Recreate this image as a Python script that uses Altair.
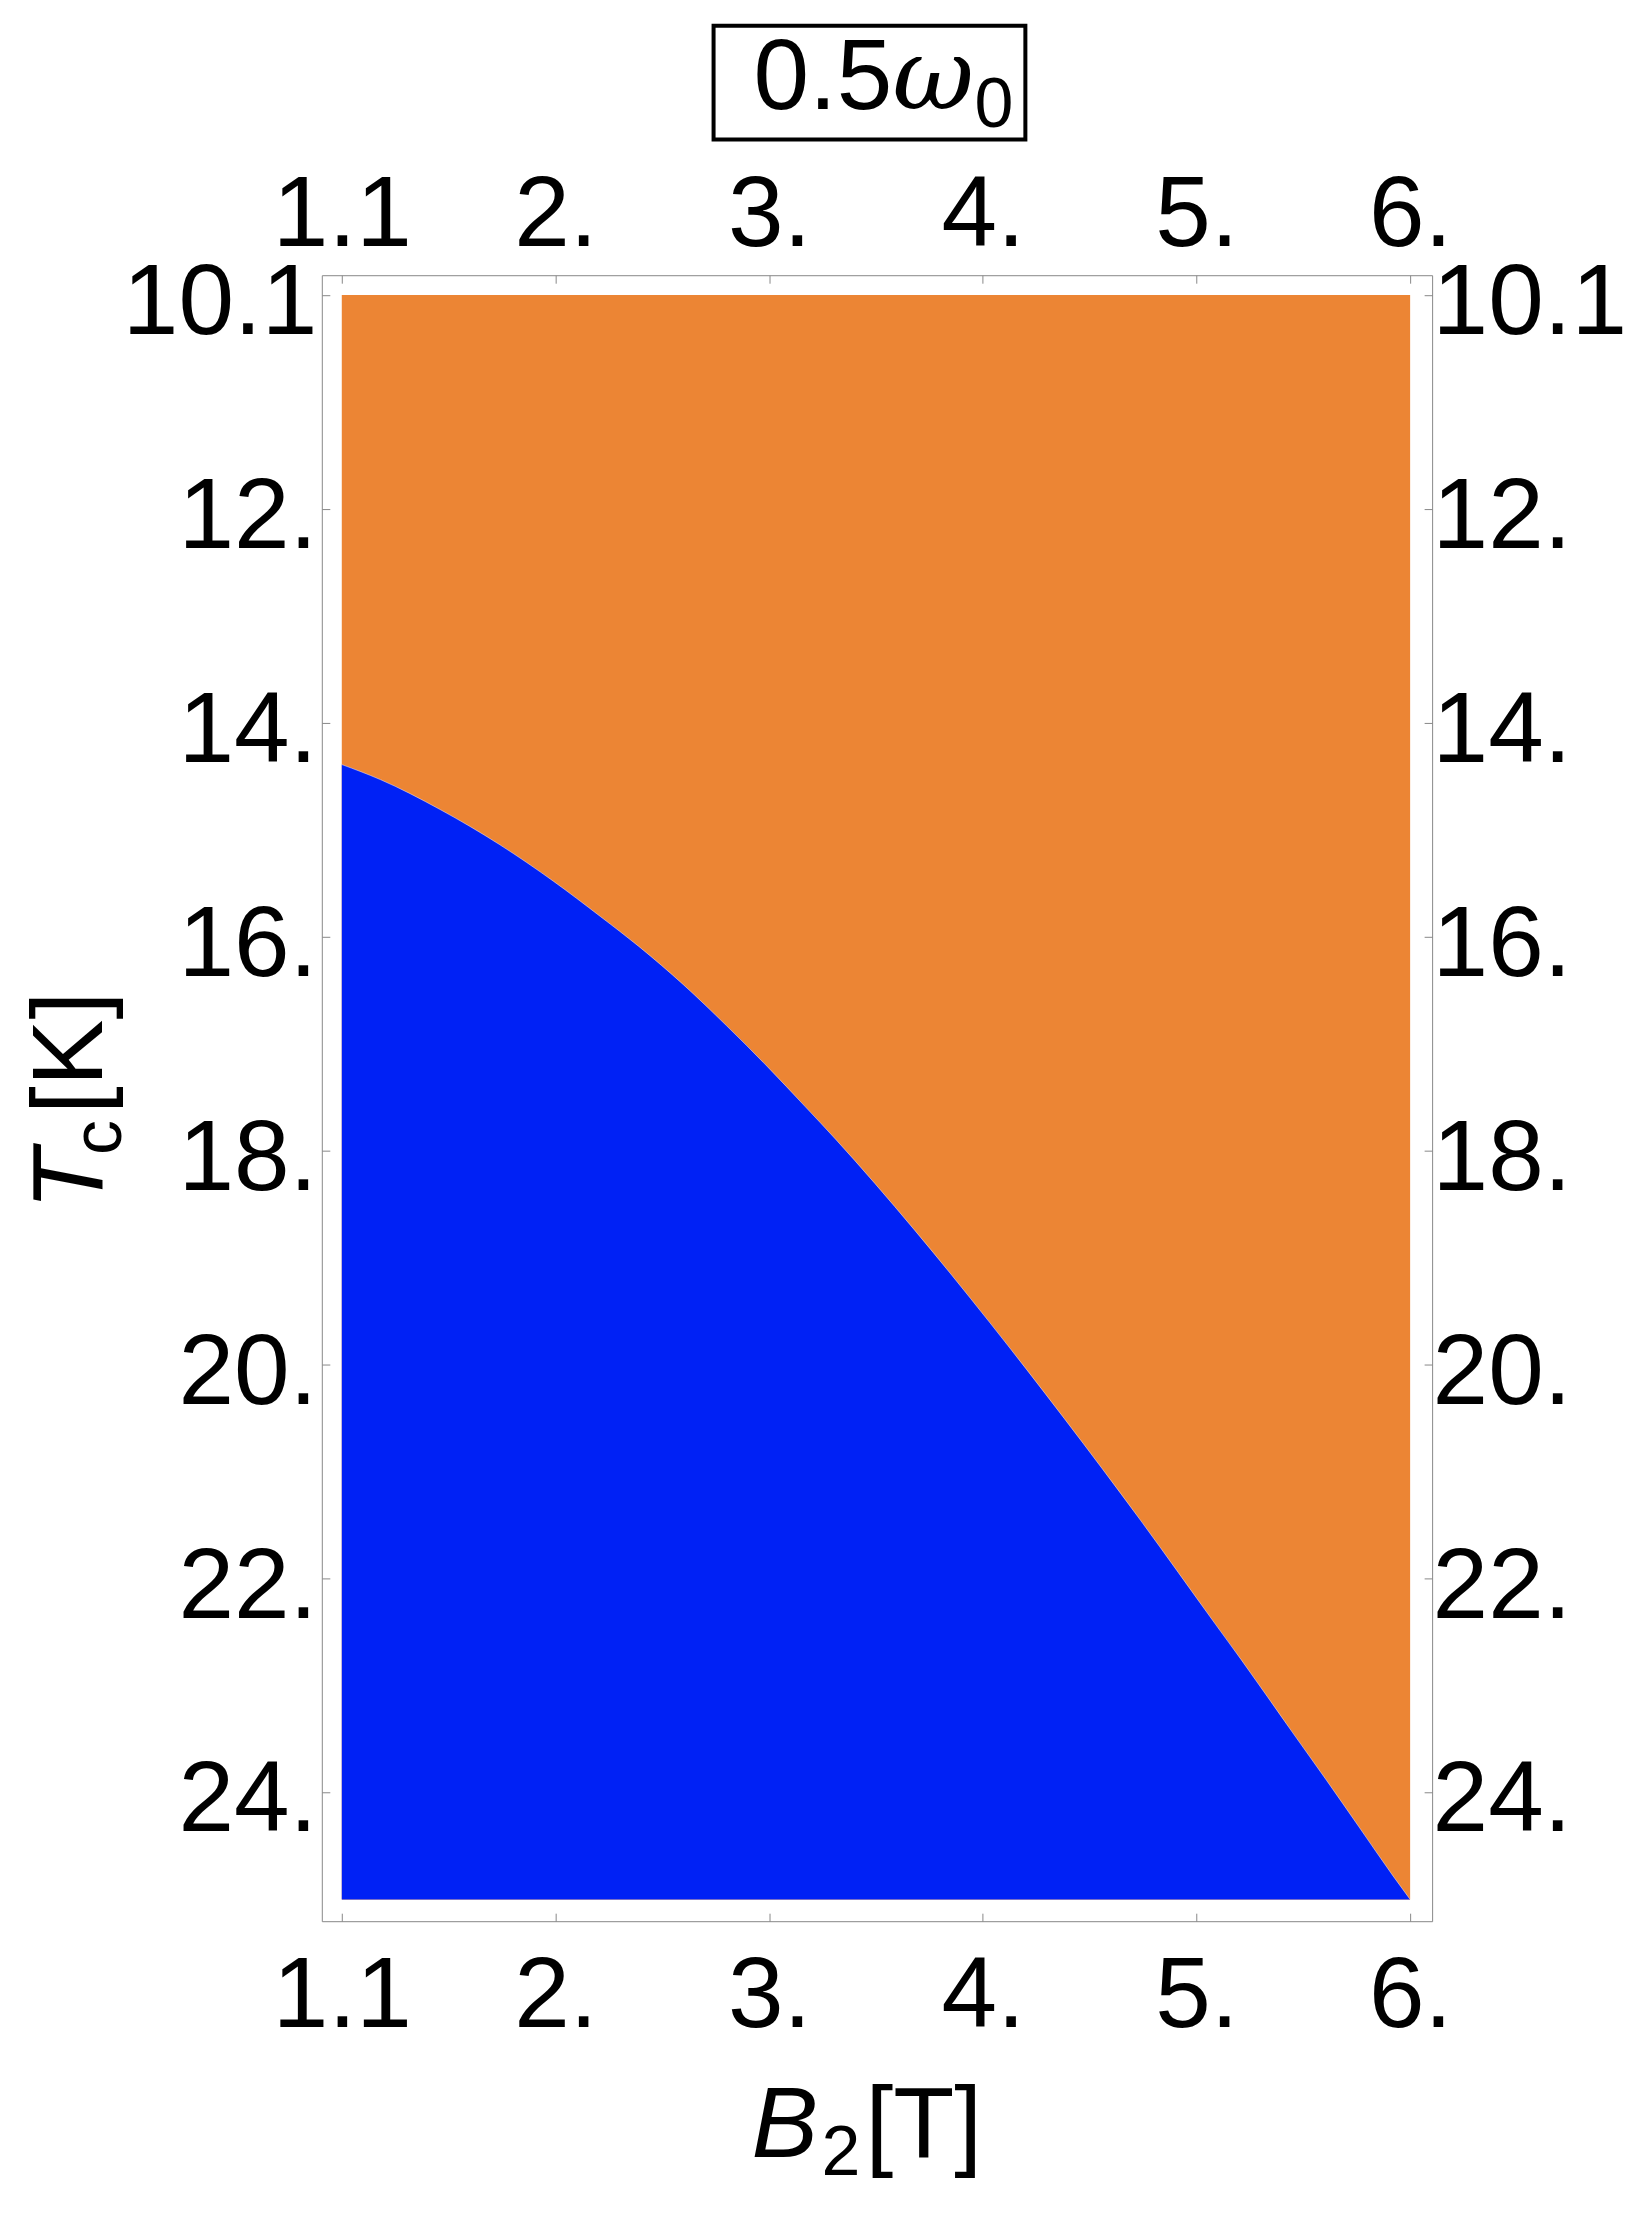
import altair as alt
import pandas as pd

# ---- data ----
B_vals = [1.00, 1.18, 1.46, 1.74, 1.99, 2.21, 2.39, 2.60, 2.80, 2.99, 3.17, 3.31,
          3.68, 4.03, 4.38, 4.74, 5.09, 5.21, 5.45, 5.61, 5.76, 5.92, 6.00]
Tc_vals = [14.39, 14.53, 14.81, 15.14, 15.48, 15.81, 16.09, 16.45, 16.83, 17.21, 17.59, 17.89,
           18.74, 19.60, 20.50, 21.46, 22.43, 22.76, 23.44, 23.89, 24.32, 24.78, 25.00]
B_range = [1.0, 6.0]
T_range = [10.0, 25.0]

x_ticks = [1, 2, 3, 4, 5, 6]
x_tick_labels = ["1.1", "2.", "3.", "4.", "5.", "6."]
y_ticks = [10, 12, 14, 16, 18, 20, 22, 24]
y_tick_labels = ["10.1", "12.", "14.", "16.", "18.", "20.", "22.", "24."]

title_parts = ["0.5", "\u03c9", "0"]
xlabel_parts = ["B", "2", "[T]"]
ylabel_parts = ["T", "c", "[K]"]

# ---- style ----
ORANGE = "#EC8534"
BLUE = "#0021F5"
GRAY = "#888888"
FONT = "Liberation Sans"
W, H = 1111, 1647


def label_expr(vals, labels):
    expr = "''"
    for v, l in reversed(list(zip(vals, labels))):
        expr = f"datum.value == {v} ? '{l}' : ({expr})"
    return expr


x_scale = alt.Scale(domain=[0.9065, 6.1029], nice=False, zero=False)
y_scale = alt.Scale(domain=[9.815, 25.203], nice=False, zero=False, reverse=True)

common = dict(domain=False, grid=False, ticks=True, tickSize=8, tickColor=GRAY,
              tickWidth=1, offset=-8, labelFont=FONT, labelFontSize=100,
              labelColor="black", labelOverlap=False, labelFlush=False,
              labelBound=False, labelBaseline="alphabetic", labelLimit=1000)

ax_bottom = alt.Axis(orient="bottom", values=x_ticks,
                     labelExpr=label_expr(x_ticks, x_tick_labels),
                     labelPadding=105, labelAlign="center", **common)
ax_top = alt.Axis(orient="top", values=x_ticks,
                  labelExpr=label_expr(x_ticks, x_tick_labels),
                  labelPadding=30, labelAlign="center", **common)
ax_left = alt.Axis(orient="left", values=y_ticks,
                   labelExpr=label_expr(y_ticks, y_tick_labels),
                   labelPadding=5, labelAlign="right", labelOffset=38.5, **common)
ax_right = alt.Axis(orient="right", values=y_ticks,
                    labelExpr=label_expr(y_ticks, y_tick_labels),
                    labelPadding=0, labelAlign="left", labelOffset=38.5, **common)

rect_df = pd.DataFrame({"x1": [B_range[0]], "x2": [B_range[1]],
                        "y1": [T_range[0]], "y2": [T_range[1]]})
curve_df = pd.DataFrame({"B": B_vals, "Tc": Tc_vals,
                         "Tb": [T_range[1]] * len(B_vals)})

orange = alt.Chart(rect_df).mark_rect(color=ORANGE).encode(
    x=alt.X("x1:Q", scale=x_scale, axis=ax_bottom, title=None),
    x2="x2:Q",
    y=alt.Y("y1:Q", scale=y_scale, axis=ax_left, title=None),
    y2="y2:Q",
)

blue = alt.Chart(curve_df).mark_area(color=BLUE, interpolate="monotone").encode(
    x=alt.X("B:Q", scale=x_scale, axis=ax_top, title=None),
    y=alt.Y("Tc:Q", scale=y_scale, axis=ax_right, title=None),
    y2="Tb:Q",
)

edge = alt.Chart(curve_df).mark_line(color="white", strokeWidth=1, opacity=0.45,
                                      interpolate="monotone").encode(
    x=alt.X("B:Q", scale=x_scale, axis=None),
    y=alt.Y("Tc:Q", scale=y_scale, axis=None),
)


def txt(s, x, y, size=100, font=FONT, style="normal", angle=0):
    kw = dict(font=font, fontSize=size, fontStyle=style, align="left",
              baseline="alphabetic", color="black")
    if angle:
        kw["angle"] = angle
    return alt.Chart(alt.Data(values=[{"t": s}])).mark_text(**kw).encode(
        text="t:N", x=alt.value(x), y=alt.value(y))


box = alt.Chart(alt.Data(values=[{"a": 1}])).mark_rect(
    fillOpacity=0, stroke="black", strokeWidth=4).encode(
    x=alt.value(392), x2=alt.value(704), y=alt.value(-249.7), y2=alt.value(-135.7))

texts = [
    txt(title_parts[0], 432, -166.4),
    txt(title_parts[1], 571, -166.4, font="DejaVu Serif", style="italic"),
    txt(title_parts[2], 653, -148.7, size=70),
    txt(xlabel_parts[0], 430, 1883.3, style="italic"),
    txt(xlabel_parts[1], 500, 1901.3, size=70),
    txt(xlabel_parts[2], 544, 1883.3),
    txt(ylabel_parts[0], -220, 935.3, style="italic", angle=270),
    txt(ylabel_parts[1], -201.3, 880.3, size=70, angle=270),
    txt(ylabel_parts[2], -220, 839.3, angle=270),
]

chart = alt.layer(orange, blue, edge, box, *texts).resolve_axis(
    x="independent", y="independent"
).properties(
    width=W, height=H,
    autosize=alt.AutoSizeParams(type="none"),
    padding={"left": 314, "top": 266.7, "right": 200, "bottom": 290},
).configure_view(stroke=GRAY, strokeWidth=1)

chart.save("out.html", embed_options={"renderer": "svg", "actions": False})
